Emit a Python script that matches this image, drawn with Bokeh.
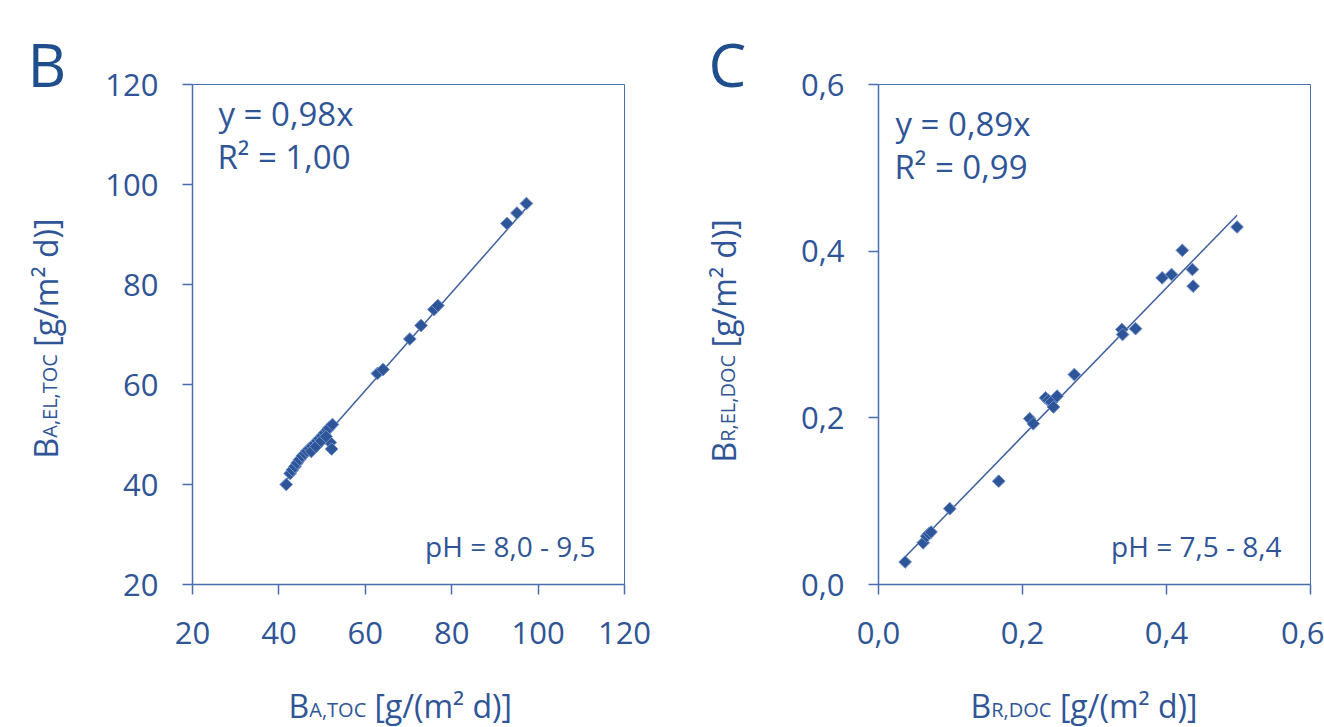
import math
from bokeh.plotting import figure
from bokeh.models import Label, FixedTicker, CustomJSTickFormatter, Range1d
from bokeh.layouts import row, column
from bokeh.embed import file_html
from bokeh.resources import INLINE

# ---- data: panel B ----
b_x = [41.7, 42.6, 43.1, 43.7, 44.2, 44.8, 45.4, 46.0, 46.5, 47.1, 47.7, 48.3,
       48.9, 49.4, 50.0, 50.6, 51.2, 51.6, 52.4, 51.9, 52.2, 47.5, 48.6, 49.8,
       50.9, 62.8, 64.1, 70.3, 72.9, 75.9, 76.8, 92.8, 95.1, 97.3]
b_y = [40.0, 42.2, 42.9, 43.6, 44.3, 45.0, 45.7, 46.2, 46.7, 47.2, 47.7, 48.2,
       48.7, 49.2, 49.7, 50.3, 50.9, 51.3, 52.0, 48.4, 47.1, 46.6, 47.6, 48.7,
       49.6, 62.2, 63.0, 69.1, 71.8, 75.0, 75.8, 92.2, 94.3, 96.2]
b_slope = 0.98
b_ticks = [20, 40, 60, 80, 100, 120]
b_eq = "y = 0,98x"
b_r2 = "R² = 1,00"
b_ph = "pH = 8,0 - 9,5"

# ---- data: panel C ----
c_x = [0.037, 0.062, 0.067, 0.070, 0.073, 0.099, 0.167, 0.210, 0.215, 0.232,
       0.236, 0.240, 0.243, 0.248, 0.272, 0.338, 0.339, 0.357, 0.394, 0.407,
       0.422, 0.436, 0.437, 0.498]
c_y = [0.027, 0.050, 0.058, 0.061, 0.063, 0.091, 0.124, 0.199, 0.193, 0.224,
       0.221, 0.219, 0.213, 0.226, 0.252, 0.306, 0.300, 0.307, 0.368, 0.372,
       0.401, 0.378, 0.358, 0.429]
c_slope = 0.89
c_ticks = [0.0, 0.2, 0.4, 0.6]
c_eq = "y = 0,89x"
c_r2 = "R² = 0,99"
c_ph = "pH = 7,5 - 8,4"

TXT = "#2F5597"
DARK = "#1F4E8C"
AXC = "#4A6DAD"
FONT = "Open Sans"
BL = 0.39  # empirical baseline correction (fraction of font size)

# approximate Open Sans advance widths (em)
ADV = {"A": .633, "B": .648, "C": .631, "D": .729, "E": .556, "L": .49, "O": .781,
       "R": .631, "T": .553, ",": .245, " ": .26}


def tw(s, size):
    return sum(ADV.get(ch, .55) for ch in s) * size


def lab(p, text, x, y, size, align="left", angle=0.0, color=TXT):
    p.add_layout(Label(x=x, y=y, x_units="screen", y_units="screen", text=text,
                       text_font=FONT, text_font_size=f"{size}px", text_color=color,
                       text_align=align, text_baseline="alphabetic", angle=angle))


def aux(w, h):
    f = figure(output_backend="svg", toolbar_location=None, width=w, height=h,
               min_border=0, x_axis_type=None, y_axis_type=None,
               x_range=Range1d(0, w), y_range=Range1d(0, h))
    f.outline_line_color = None
    f.grid.visible = False
    f.background_fill_color = "white"
    return f


def make(xs, ys, slope, ticks, xr, yr, mbl, mbr, fmt_decimal):
    p = figure(output_backend="svg", toolbar_location=None,
               frame_width=432, frame_height=500,
               min_border_left=mbl, min_border_right=mbr,
               min_border_top=84, min_border_bottom=80,
               x_range=Range1d(*xr), y_range=Range1d(*yr))
    p.grid.visible = False
    p.outline_line_color = AXC
    p.outline_line_width = 1
    for ax in (p.xaxis[0], p.yaxis[0]):
        ax.ticker = FixedTicker(ticks=ticks)
        ax.axis_line_color = AXC
        ax.axis_line_width = 1.5
        ax.major_tick_line_color = AXC
        ax.major_tick_line_width = 1.5
        ax.major_tick_out = 10
        ax.major_tick_in = 0
        ax.minor_tick_line_color = None
        ax.major_label_text_font = FONT
        ax.major_label_text_font_size = "31px"
        ax.major_label_text_color = TXT
        if fmt_decimal:
            ax.formatter = CustomJSTickFormatter(code="return tick.toFixed(1).replace('.', ',');")
    p.xaxis.major_label_standoff = 27
    p.yaxis.major_label_standoff = 24
    lx = [min(xs), max(xs)]
    p.line(lx, [slope * v for v in lx], line_color="#3D5F9E", line_width=1.5)
    p.scatter(xs, ys, marker="square", angle=math.pi / 4, size=9,
              fill_color="#2E5597", line_color="#6F90CB", line_width=1)
    return p


def stats(p, eq, r2, ph, x0, y_eq, y_r2):
    lab(p, eq, x0, y_eq + BL * 33, 33)
    lab(p, r2, x0 - 1, y_r2 + BL * 33, 33)
    lab(p, ph, 403, 28 + BL * 28, 28, align="right")


BIG, SMALL = 32, 20


def xtitle(f, sub, x0, base):
    lab(f, "B", x0, base + BL * BIG, BIG)
    x1 = x0 + tw("B", BIG)
    lab(f, sub, x1, base + BL * SMALL, SMALL)
    x2 = x1 + tw(sub, SMALL) + tw(" ", BIG)
    lab(f, "[g/(m² d)]", x2, base + BL * BIG, BIG)


def ytitle(f, sub, xb, y0):
    a = math.pi / 2
    lab(f, "B", xb - BL * BIG, y0, BIG, angle=a)
    y1 = y0 + tw("B", BIG)
    lab(f, sub, xb - BL * SMALL, y1, SMALL, angle=a)
    y2 = y1 + tw(sub, SMALL) + tw(" ", BIG)
    lab(f, "[g/m² d)]", xb - BL * BIG, y2, BIG, angle=a)


H = 726
BOT = 62
XBASE = H - 717  # baseline of x titles, measured from the bottom of the page

# ---- panel B ----
pB = make(b_x, b_y, b_slope, b_ticks, (20, 120), (20, 120), 92, 76, False)
stats(pB, b_eq, b_r2, b_ph, 26, 458, 415)
leftB = aux(100, H)
lab(leftB, "B", 27, (H - 87) + BL * 60, 60, color=DARK)
ytitle(leftB, "A,EL,TOC", 57, 268)
botB = aux(600, BOT)
xtitle(botB, "A,TOC", 96, XBASE)   # relative to the (aligned) frame left

# ---- panel C ----
pC = make(c_x, c_y, c_slope, c_ticks, (0, 0.6), (0, 0.6), 82, 14, True)
stats(pC, c_eq, c_r2, c_ph, 17, 448, 405)
leftC = aux(96, H)
lab(leftC, "C", 8, (H - 87) + BL * 60, 60, color=DARK)
ytitle(leftC, "R,EL,DOC", 35, 264)
botC = aux(528, BOT)
xtitle(botC, "R,DOC", 92, XBASE)

layout = row(leftB, column(pB, botB), leftC, column(pC, botC))
open("out.html", "w").write(file_html(layout, INLINE))
